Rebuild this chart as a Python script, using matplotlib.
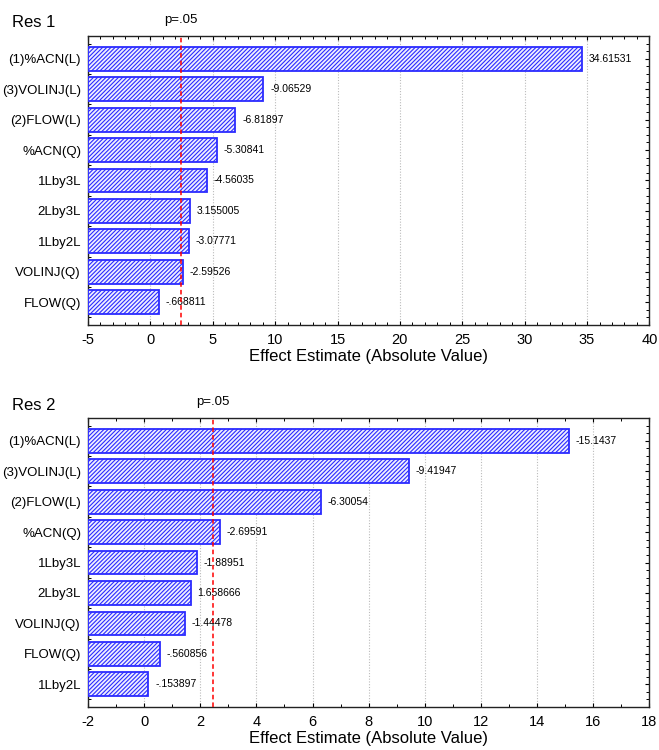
import matplotlib

matplotlib.use("Agg")
import matplotlib.pyplot as plt
import numpy as np
from matplotlib.ticker import MultipleLocator

plt.rcParams["font.family"] = ["Liberation Sans", "DejaVu Sans"]
plt.rcParams["axes.unicode_minus"] = False
plt.rcParams["hatch.linewidth"] = 0.8

# Pareto chart data: effect estimates (signed) for both responses
res1_labels = ["(1)%ACN(L)", "(3)VOLINJ(L)", "(2)FLOW(L)", "%ACN(Q)", "1Lby3L",
               "2Lby3L", "1Lby2L", "VOLINJ(Q)", "FLOW(Q)"]
res1_values = [34.61531, -9.06529, -6.81897, -5.30841, -4.56035,
               3.155005, -3.07771, -2.59526, -0.668811]
res1_texts = ["34.61531", "-9.06529", "-6.81897", "-5.30841", "-4.56035",
              "3.155005", "-3.07771", "-2.59526", "-.668811"]

res2_labels = ["(1)%ACN(L)", "(3)VOLINJ(L)", "(2)FLOW(L)", "%ACN(Q)", "1Lby3L",
               "2Lby3L", "VOLINJ(Q)", "FLOW(Q)", "1Lby2L"]
res2_values = [-15.1437, -9.41947, -6.30054, -2.69591, -1.88951,
               1.658666, -1.44478, -0.560856, -0.153897]
res2_texts = ["-15.1437", "-9.41947", "-6.30054", "-2.69591", "-1.88951",
              "1.658666", "-1.44478", "-.560856", "-.153897"]

p_crit = 2.447  # t(0.975, 6)

BLUE = "#2b2bff"


def pareto(ax, title, labels, values, texts, xlim, major, minor):
    n = len(labels)
    y = np.arange(n)
    widths = np.abs(values)
    left = xlim[0]
    ax.barh(y, widths - left, left=left, height=0.78, facecolor="#eeeeff",
            edgecolor=BLUE, hatch="////////", linewidth=1.3, zorder=3)
    for yi, w, t in zip(y, widths, texts):
        ax.text(w + 0.012 * (xlim[1] - xlim[0]), yi, t, va="center", ha="left",
                fontsize=7.5, zorder=4)
    ax.axvline(p_crit, color="red", ls=(0, (3, 2)), lw=1.1, zorder=4)
    ax.set_xlim(*xlim)
    ax.set_ylim(n - 0.25, -0.75)
    ax.set_yticks(y)
    ax.set_yticklabels(labels, fontsize=9.5)
    ax.xaxis.set_major_locator(MultipleLocator(major))
    ax.xaxis.set_minor_locator(MultipleLocator(minor))
    ax.yaxis.set_minor_locator(MultipleLocator(0.25))
    ax.tick_params(axis="both", which="both", direction="in", top=True, right=True)
    ax.tick_params(axis="both", which="major", length=3, width=0.8)
    ax.tick_params(axis="both", which="minor", length=2, width=0.7)
    ax.tick_params(axis="x", labelsize=10.5, pad=6)
    ax.tick_params(axis="y", pad=5)
    ax.grid(axis="x", which="major", color="#bbbbbb", ls=(0, (1, 1.5)), lw=0.8, zorder=0)
    for s in ax.spines.values():
        s.set_linewidth(1.0)
        s.set_color("#222222")
    ax.set_xlabel("Effect Estimate (Absolute Value)", fontsize=12, labelpad=1)
    ax.text(-0.135, 1.045, title, transform=ax.transAxes, fontsize=12, va="center")
    ax.text(p_crit, 1.055, "p=.05", transform=ax.get_xaxis_transform(),
            ha="center", va="center", fontsize=9.5)


fig = plt.figure(figsize=(6.59, 7.5), dpi=100)
ax1 = fig.add_axes([0.1335, 0.5667, 0.852, 0.3853])
ax2 = fig.add_axes([0.1335, 0.0573, 0.852, 0.3853])

pareto(ax1, "Res 1", res1_labels, res1_values, res1_texts, (-5, 40), 5, 1)
pareto(ax2, "Res 2", res2_labels, res2_values, res2_texts, (-2, 18), 2, 1)

fig.savefig("out.png", dpi=100)
